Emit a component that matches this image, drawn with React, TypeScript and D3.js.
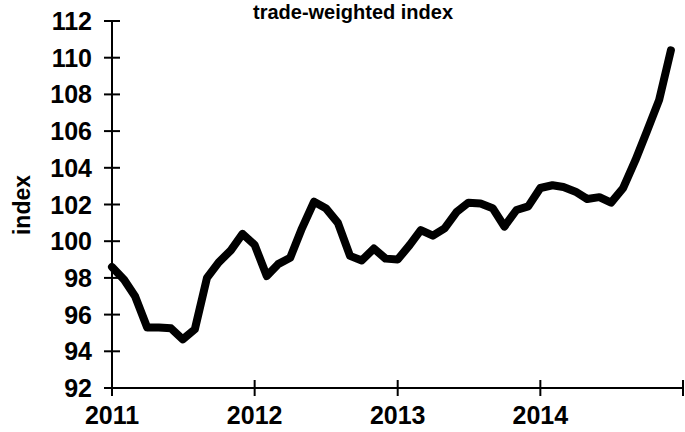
import React, { useRef, useEffect } from 'react';
import * as d3 from 'd3';

// monthly trade-weighted index, Jan 2011 .. Dec 2014
const values2011 = [98.6, 97.9, 97.0, 95.3, 95.3, 95.25, 94.65, 95.2, 98.0, 98.85, 99.5, 100.4];
const values2012 = [99.8, 98.1, 98.75, 99.1, 100.7, 102.15, 101.8, 101.0, 99.2, 98.95, 99.6, 99.05];
const values2013 = [99.0, 99.8, 100.6, 100.3, 100.7, 101.6, 102.1, 102.05, 101.8, 100.8, 101.7, 101.9];
const values2014 = [102.9, 103.05, 102.95, 102.7, 102.3, 102.4, 102.1, 102.9, 104.4, 106.0, 107.7, 110.4];
const years = [2011, 2012, 2013, 2014];
const yTicks = [92, 94, 96, 98, 100, 102, 104, 106, 108, 110, 112];
const title = 'trade-weighted index';
const yLabel = 'index';

export default function App() {
  const svgRef = useRef<SVGSVGElement>(null);

  useEffect(() => {
    const svg = d3.select(svgRef.current);
    svg.selectAll('*').remove();

    const series = [values2011, values2012, values2013, values2014];
    const data: { date: Date; value: number }[] = [];
    series.forEach((vals, yi) => {
      vals.forEach((v, m) => data.push({ date: new Date(years[yi], m, 1), value: v }));
    });

    const x = d3.scaleTime()
      .domain([new Date(2011, 0, 1), new Date(2015, 0, 1)])
      .range([112, 683]);
    const y = d3.scaleLinear().domain([92, 112]).range([388, 21]);

    const font = '"Liberation Sans", Arial, sans-serif';

    // y axis line + crossing ticks
    svg.append('line')
      .attr('x1', x.range()[0]).attr('x2', x.range()[0])
      .attr('y1', y(112)).attr('y2', y(92))
      .attr('stroke', '#000').attr('stroke-width', 2);
    svg.selectAll('.ytick').data(yTicks).enter().append('line')
      .attr('x1', x.range()[0] - 8).attr('x2', x.range()[0] + 8)
      .attr('y1', (d) => y(d)).attr('y2', (d) => y(d))
      .attr('stroke', '#000').attr('stroke-width', 2);
    svg.selectAll('.ylab').data(yTicks).enter().append('text')
      .attr('x', 92).attr('y', (d) => y(d) + 9)
      .attr('text-anchor', 'end')
      .style('font-family', font).style('font-weight', 'bold').style('font-size', '25px')
      .text((d) => d);

    // x axis
    const xTicks = [...years, 2015].map((yr) => new Date(yr, 0, 1));
    svg.append('line')
      .attr('x1', x.range()[0]).attr('x2', x.range()[1])
      .attr('y1', y(92)).attr('y2', y(92))
      .attr('stroke', '#000').attr('stroke-width', 2);
    svg.selectAll('.xtick').data(xTicks).enter().append('line')
      .attr('x1', (d) => x(d)).attr('x2', (d) => x(d))
      .attr('y1', y(92) - 8).attr('y2', y(92) + 8)
      .attr('stroke', '#000').attr('stroke-width', 2);
    svg.selectAll('.xlab').data(years).enter().append('text')
      .attr('x', (d) => x(new Date(d, 0, 1)))
      .attr('y', 424)
      .attr('text-anchor', 'middle')
      .style('font-family', font).style('font-weight', 'bold').style('font-size', '25px')
      .text((d) => d);

    // the line
    const line = d3.line<{ date: Date; value: number }>()
      .x((d) => x(d.date))
      .y((d) => y(d.value));
    svg.append('path')
      .datum(data)
      .attr('d', line)
      .attr('fill', 'none')
      .attr('stroke', '#000')
      .attr('stroke-width', 8)
      .attr('stroke-linejoin', 'round')
      .attr('stroke-linecap', 'round');

    // title
    svg.append('text')
      .attr('x', 353).attr('y', 19)
      .attr('text-anchor', 'middle')
      .style('font-family', font).style('font-weight', 'bold').style('font-size', '20px')
      .text(title);

    // y label
    svg.append('text')
      .attr('transform', `translate(30, 205) rotate(-90)`)
      .attr('text-anchor', 'middle')
      .style('font-family', font).style('font-weight', 'bold').style('font-size', '23px')
      .text(yLabel);
  }, []);

  return (
    <div style={{ position: 'fixed', left: 0, top: 0 }}>
      <svg ref={svgRef} width={685} height={432} style={{ display: 'block', background: '#fff' }} />
    </div>
  );
}
